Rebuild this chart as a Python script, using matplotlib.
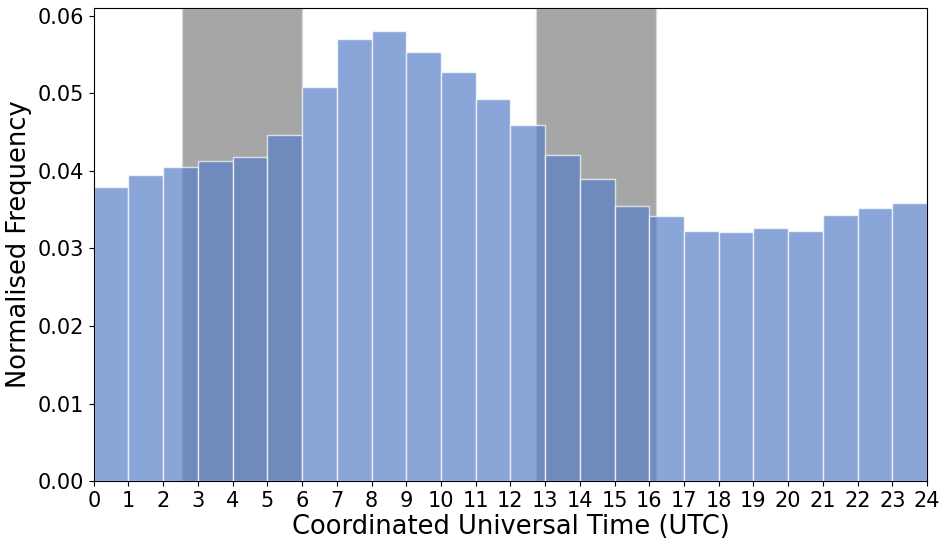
import numpy as np
import matplotlib.pyplot as plt

# hourly normalised frequency (UTC hour bins)
hours = np.arange(24)
freq = [0.0379, 0.0395, 0.0405, 0.0413, 0.0418, 0.0446, 0.0508, 0.0570,
        0.0581, 0.0554, 0.0528, 0.0493, 0.0459, 0.0421, 0.0390, 0.0355,
        0.0342, 0.0323, 0.0321, 0.0326, 0.0323, 0.0343, 0.0352, 0.0359]

# shaded periods (hours UTC)
shade_periods = [(2.55, 6.0), (12.73, 16.2)]

fig, ax = plt.subplots(figsize=(9.47, 5.43), dpi=100)

for start, end in shade_periods:
    ax.axvspan(start, end, color='gray', alpha=0.7, ec='#dddddd', lw=1)

ax.bar(hours, freq, width=1, align='edge', color='#5880c8', alpha=0.7,
       edgecolor='white', linewidth=1)

ax.set_xlim(0, 24)
ax.set_ylim(0, 0.061)
ax.set_xticks(np.arange(25))
ax.set_yticks(np.arange(0, 0.061, 0.01))
ax.yaxis.set_major_formatter(plt.FormatStrFormatter('%.2f'))
ax.tick_params(labelsize=15)
ax.set_xlabel('Coordinated Universal Time (UTC)', fontsize=18.5, labelpad=2)
ax.set_ylabel('Normalised Frequency', fontsize=18.5)

fig.subplots_adjust(left=0.099, right=0.979, top=0.985, bottom=0.114)
fig.savefig('out.png', dpi=100)
